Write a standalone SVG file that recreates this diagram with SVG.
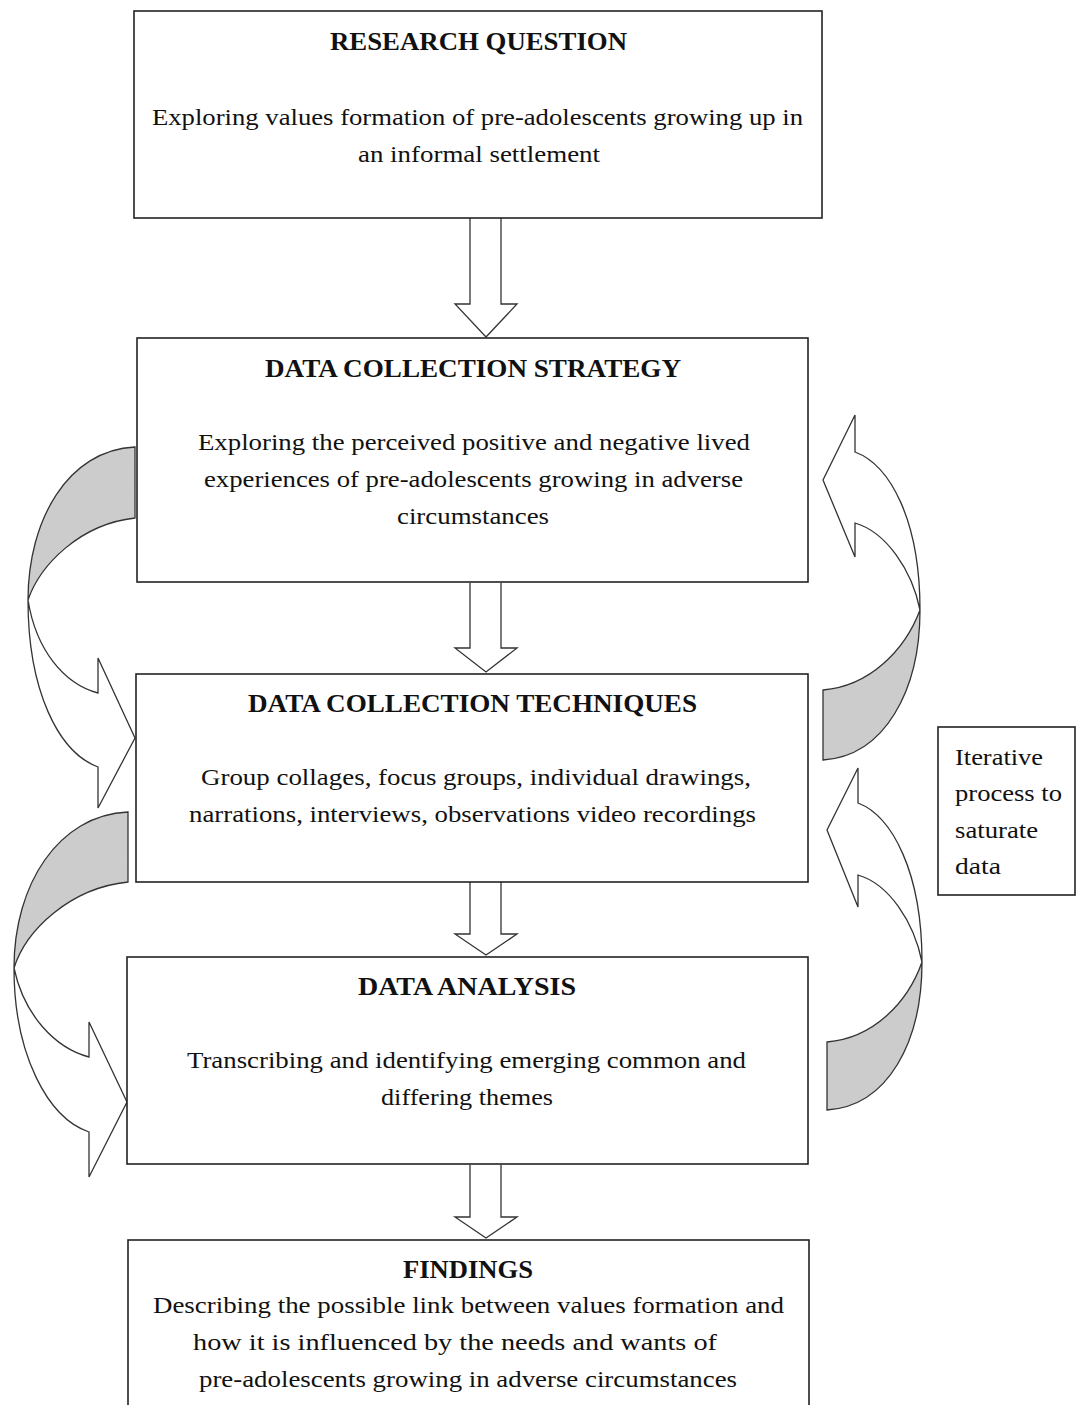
<svg xmlns="http://www.w3.org/2000/svg" width="1076" height="1405" viewBox="0 0 1076 1405">
  <style>
    .box { fill: #ffffff; stroke: #222222; stroke-width: 1.6; }
    .arrow { fill: #ffffff; stroke: #333333; stroke-width: 1.3; stroke-linejoin: miter; }
    .back { fill: #cccccc; stroke: #333333; stroke-width: 1.3; }
    .title { font-family: "Liberation Serif", "Times New Roman", serif; font-weight: bold; font-size: 26px; fill: #111111; text-anchor: start; }
    .body { font-family: "Liberation Serif", "Times New Roman", serif; font-size: 24px; fill: #111111; text-anchor: start; }
  </style>
  <rect width="1076" height="1405" fill="#ffffff"/>

  <!-- connectors: straight block arrows and curved feedback arrows -->
  <g id="connectors">
    <path class="arrow" d="M470,218 L470,304 L455,304 L486,337 L517,304 L501,304 L501,218"/>
    <path class="arrow" d="M470,583 L470,648 L455,648 L486,672 L517,648 L501,648 L501,583"/>
    <path class="arrow" d="M470,882 L470,934 L455,934 L486,955 L517,934 L501,934 L501,882"/>
    <path class="arrow" d="M470,1165 L470,1217 L455,1217 L486,1238 L517,1217 L501,1217 L501,1165"/>

    <!-- left curved arrow: strategy -> techniques -->
    <path class="back" d="M135,447 C68,450 28,520 28,600 C40,565 80,524 135,518 Z"/>
    <path class="arrow" d="M28,600 C28,690 58,752 98,767 L98,808 L135,738 L98,658 L98,693 C64,684 36,650 28,600 Z"/>

    <!-- left curved arrow: techniques -> analysis -->
    <path class="back" d="M128,812 C58,815 14,885 14,968 C26,930 70,888 128,882 Z"/>
    <path class="arrow" d="M14,968 C14,1055 48,1118 89,1132 L89,1177 L127,1102 L89,1022 L89,1057 C55,1048 24,1015 14,968 Z"/>

    <!-- right curved arrow: techniques -> strategy -->
    <path class="back" d="M823,760 C885,756 920,690 920,610 C905,650 870,686 823,690 Z"/>
    <path class="arrow" d="M920,610 C920,520 890,465 855,452 L855,415 L823,480 L855,557 L855,523 C886,532 912,570 920,610 Z"/>

    <!-- right curved arrow: analysis -> techniques -->
    <path class="back" d="M827,1110 C888,1106 922,1042 922,962 C908,1002 874,1038 827,1042 Z"/>
    <path class="arrow" d="M922,962 C922,872 892,816 858,803 L858,768 L827,830 L858,907 L858,875 C889,884 914,922 922,962 Z"/>
  </g>

  <g id="research-question">
    <rect class="box" x="134" y="11" width="688" height="207"/>
    <text class="title" x="330" y="50" textLength="297" lengthAdjust="spacingAndGlyphs">RESEARCH QUESTION</text>
    <text class="body" x="152" y="125" textLength="651" lengthAdjust="spacingAndGlyphs">Exploring values formation of pre-adolescents growing up in</text>
    <text class="body" x="358" y="162" textLength="242" lengthAdjust="spacingAndGlyphs">an informal settlement</text>
  </g>

  <g id="data-collection-strategy">
    <rect class="box" x="137" y="338" width="671" height="244"/>
    <text class="title" x="265" y="377" textLength="416" lengthAdjust="spacingAndGlyphs">DATA COLLECTION STRATEGY</text>
    <text class="body" x="198" y="450" textLength="552" lengthAdjust="spacingAndGlyphs">Exploring the perceived positive and negative lived</text>
    <text class="body" x="204" y="487" textLength="539" lengthAdjust="spacingAndGlyphs">experiences of pre-adolescents growing in adverse</text>
    <text class="body" x="397" y="524" textLength="152" lengthAdjust="spacingAndGlyphs">circumstances</text>
  </g>

  <g id="data-collection-techniques">
    <rect class="box" x="136" y="674" width="672" height="208"/>
    <text class="title" x="248" y="712" textLength="449" lengthAdjust="spacingAndGlyphs">DATA COLLECTION TECHNIQUES</text>
    <text class="body" x="201" y="785" textLength="550" lengthAdjust="spacingAndGlyphs">Group collages, focus groups, individual drawings,</text>
    <text class="body" x="189" y="822" textLength="567" lengthAdjust="spacingAndGlyphs">narrations, interviews, observations video recordings</text>
  </g>

  <g id="data-analysis">
    <rect class="box" x="127" y="957" width="681" height="207"/>
    <text class="title" x="358" y="995" textLength="218" lengthAdjust="spacingAndGlyphs">DATA ANALYSIS</text>
    <text class="body" x="187" y="1068" textLength="559" lengthAdjust="spacingAndGlyphs">Transcribing and identifying emerging common and</text>
    <text class="body" x="381" y="1105" textLength="172" lengthAdjust="spacingAndGlyphs">differing themes</text>
  </g>

  <g id="findings">
    <rect class="box" x="128" y="1240" width="681" height="180"/>
    <text class="title" x="403" y="1278" textLength="130" lengthAdjust="spacingAndGlyphs">FINDINGS</text>
    <text class="body" x="153" y="1313" textLength="631" lengthAdjust="spacingAndGlyphs">Describing the possible link between values formation and</text>
    <text class="body" x="193" y="1350" textLength="524" lengthAdjust="spacingAndGlyphs">how it is influenced by the needs and wants of</text>
    <text class="body" x="199" y="1387" textLength="538" lengthAdjust="spacingAndGlyphs">pre-adolescents growing in adverse circumstances</text>
  </g>

  <g id="iterative-note">
    <rect class="box" x="938" y="727" width="137" height="168"/>
    <text class="body" x="955" y="765" textLength="88" lengthAdjust="spacingAndGlyphs">Iterative</text>
    <text class="body" x="955" y="801" textLength="107" lengthAdjust="spacingAndGlyphs">process to</text>
    <text class="body" x="955" y="838" textLength="83" lengthAdjust="spacingAndGlyphs">saturate</text>
    <text class="body" x="955" y="874" textLength="46" lengthAdjust="spacingAndGlyphs">data</text>
  </g>
</svg>
